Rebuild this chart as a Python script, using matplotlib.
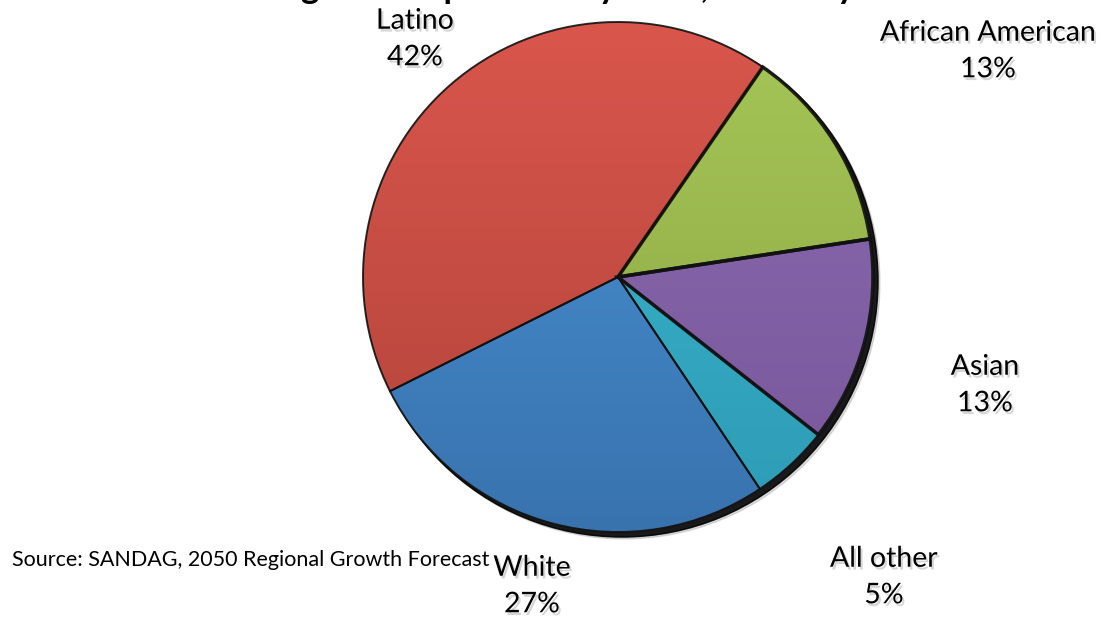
import numpy as np
import matplotlib
matplotlib.use("Agg")
import matplotlib.pyplot as plt
import matplotlib.patheffects as pe
from matplotlib.colors import LinearSegmentedColormap
from matplotlib.patches import Wedge

# ---- data ----
categories = ["Latino", "African American", "Asian", "All other", "White"]
shares = [42, 13, 13, 5, 27]
labels = ["Latino\n42%", "African American\n13%", "Asian\n13%", "All other\n5%", "White\n27%"]
top_colors = ["#d9564c", "#a6c658", "#8c6cb0", "#3cb8cf", "#4b93d6"]
bottom_colors = ["#b1433a", "#8aa541", "#77579a", "#2e9bb5", "#3873ae"]
title = "Regional Population by Race, Ethnicity"
source = "Source: SANDAG, 2050 Regional Growth Forecast"

plt.rcParams['font.family'] = ['Lato', 'DejaVu Sans']

W, H = 1113, 620
fig = plt.figure(figsize=(W / 100, H / 100), dpi=100)
ax = fig.add_axes([0, 0, 1, 1])
ax.set_xlim(0, W)
ax.set_ylim(0, H)
ax.axis('off')

cx, cy, R = 618, H - 277, 255
split = 55.4  # boundary between Latino and African American

# outer shadow
ax.add_patch(plt.Circle((cx + 4, cy - 4), R + 1, color='black', alpha=0.85, zorder=1))
for dx, a in [(7, 0.25), (10, 0.12)]:
    ax.add_patch(plt.Circle((cx + dx * 0.6, cy - dx * 0.6), R + 1, color='black', alpha=a, zorder=0.5))

# wedge angles: Latino counter-clockwise from the split, the others clockwise
angles = [(split, split + shares[0] * 3.6)]
cur = split
for s in shares[1:]:
    angles.append((cur - s * 3.6, cur))
    cur -= s * 3.6

grad = np.linspace(0, 1, 256).reshape(-1, 1)
for i, (t1, t2) in enumerate(angles):
    wdg = Wedge((cx, cy), R, t1, t2, facecolor='none', edgecolor='none', zorder=2)
    ax.add_patch(wdg)
    cmap = LinearSegmentedColormap.from_list(f"g{i}", [bottom_colors[i], top_colors[i]])
    im = ax.imshow(grad, cmap=cmap, extent=(cx - R, cx + R, cy - R, cy + R),
                   origin='lower', aspect='auto', zorder=2, interpolation='bilinear')
    im.set_clip_path(wdg)
    lw = 2.6 if i in (1, 2) else 1.4
    ax.add_patch(Wedge((cx, cy), R, t1, t2, facecolor='none', edgecolor='#111111',
                       linewidth=lw, zorder=3, alpha=0.9))

ax.set_xlim(0, W)
ax.set_ylim(0, H)

shadow_fx = [pe.withSimplePatchShadow(offset=(1.5, -2), shadow_rgbFace='#777777', alpha=0.3)]
label_pos = [(415, H - 39), (988, H - 51), (985, H - 385), (884, H - 577), (532, H - 586)]
for lab, (x, y) in zip(labels, label_pos):
    ax.text(x, y, lab, ha='center', va='center', fontsize=20.5, color='black',
            linespacing=1.5, path_effects=shadow_fx, zorder=5)

ax.text(12, H - 560, source, ha='left', va='center', fontsize=15.5, color='black', zorder=5)

ax.text(558, H + 2, title, ha='center', va='baseline', fontsize=25, fontweight='bold',
        color='black', zorder=5, clip_on=False)

fig.savefig("out.png", dpi=100)
